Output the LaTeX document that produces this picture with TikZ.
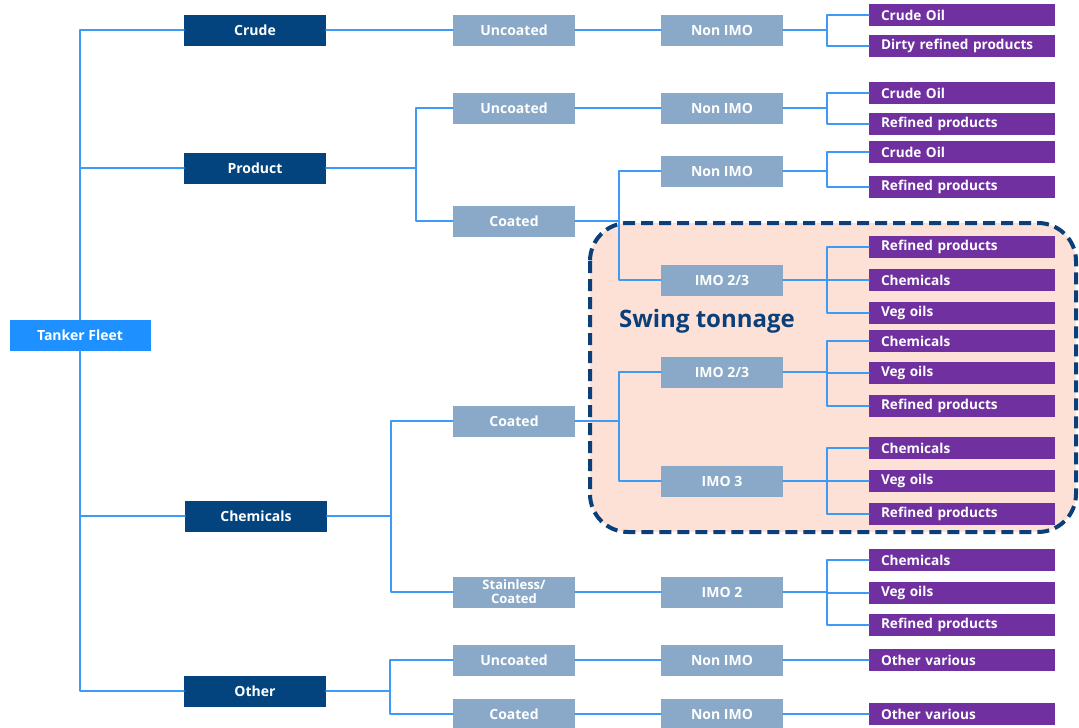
\documentclass[tikz,border=0pt]{standalone}
\usepackage{fontspec}
\setmainfont{Open Sans}
\usepackage{xcolor}
\usepackage{tikz}
\usetikzlibrary{positioning,backgrounds}
\definecolor{TFBlue}{HTML}{1E90FF}
\definecolor{TFNavy}{HTML}{03447F}
\definecolor{TFSteel}{HTML}{8AA9C8}
\definecolor{TFPurple}{HTML}{7030A0}
\definecolor{TFLine}{HTML}{3D9BF5}
\definecolor{TFSwingFill}{HTML}{FDE1D6}
\definecolor{TFSwingEdge}{HTML}{0B3F7A}

\tikzset{
  fleetbox/.style={fill=TFBlue,text=white,minimum width=141pt,
    minimum height=31pt,inner sep=0pt},
  typebox/.style={fill=TFNavy,text=white,minimum width=142pt,
    minimum height=31pt,inner sep=0pt},
  gradebox/.style={fill=TFSteel,text=white,minimum width=122pt,
    minimum height=31pt,inner sep=0pt},
  cargobox/.style={fill=TFPurple,text=white,text width=162pt,
    inner xsep=12pt,inner ysep=0pt,minimum height=22pt,align=left,
    font=\bfseries\fontsize{13.6}{16}\selectfont},
  link/.style={draw=TFLine,line width=2pt},
}

\begin{document}
\begin{tikzpicture}[x=1pt,y=-1pt,font=\bfseries\fontsize{14}{16}\selectfont,
    line cap=round,line join=round]
  \path[use as bounding box] (0,0) rectangle (1079,728);

  % Swing tonnage zone sits behind the tree.
  \draw[TFSwingEdge,fill=TFSwingFill,line width=4pt,line cap=butt,
    dash pattern=on 12pt off 6pt,rounded corners=38pt]
    (590,223) rectangle (1076,532);
  \node[text=TFSwingEdge,font=\bfseries\fontsize{24}{27}\selectfont]
    (swing) at (707,321) {Swing tonnage};

  % Root and ship types.
  \node[fleetbox] (root) at (80,335) {Tanker Fleet};
  \node[typebox] (crude) at (255,30) {Crude};
  \node[typebox] (product) at (255,168) {Product};
  \node[typebox] (chem) at (256,516) {Chemicals};
  \node[typebox] (other) at (255,691) {Other};

  % Tank coating.
  \node[gradebox] (s1) at (514,30) {Uncoated};
  \node[gradebox] (s2) at (514,108) {Uncoated};
  \node[gradebox] (s3) at (514,221) {Coated};
  \node[gradebox] (s4) at (514,421) {Coated};
  \node[gradebox,align=center,font=\bfseries\fontsize{13}{14}\selectfont]
    (s5) at (514,592) {Stainless/\\Coated};
  \node[gradebox] (s6) at (514,660) {Uncoated};
  \node[gradebox] (s7) at (514,714) {Coated};

  % IMO class.
  \node[gradebox] (n1) at (722,30) {Non IMO};
  \node[gradebox] (n2) at (722,108) {Non IMO};
  \node[gradebox] (n3) at (722,171) {Non IMO};
  \node[gradebox] (n4) at (722,280) {IMO 2/3};
  \node[gradebox] (n5) at (722,372) {IMO 2/3};
  \node[gradebox] (n6) at (722,481) {IMO 3};
  \node[gradebox] (n7) at (722,592) {IMO 2};
  \node[gradebox] (n8) at (722,660) {Non IMO};
  \node[gradebox] (n9) at (722,714) {Non IMO};

  % Junctions of the elbow connectors.
  \coordinate (j2) at (416,168);
  \coordinate (j3) at (391,516);
  \coordinate (j4) at (390,691);
  \coordinate (j5) at (619,221);
  \coordinate (j6) at (619,421);
  \foreach \i in {1,...,9}
    \path (n\i.east) ++(44,0) coordinate (k\i);

  % Root to types.
  \draw[link] (root.north) |- (crude.west);
  \draw[link] (root.north) |- (product.west);
  \draw[link] (root.south) |- (chem.west);
  \draw[link] (root.south) |- (other.west);

  % Types to coating.
  \draw[link] (crude.east) -- (s1.west);
  \draw[link] (product.east) -- (j2) |- (s2.west);
  \draw[link] (j2) |- (s3.west);
  \draw[link] (chem.east) -- (j3) |- (s4.west);
  \draw[link] (j3) |- (s5.west);
  \draw[link] (other.east) -- (j4) |- (s6.west);
  \draw[link] (j4) |- (s7.west);

  % Coating to IMO class.
  \draw[link] (s1.east) -- (n1.west);
  \draw[link] (s2.east) -- (n2.west);
  \draw[link] (s3.east) -- (j5) |- (n3.west);
  \draw[link] (j5) |- (n4.west);
  \draw[link] (s4.east) -- (j6) |- (n5.west);
  \draw[link] (j6) |- (n6.west);
  \draw[link] (s5.east) -- (n7.west);
  \draw[link] (s6.east) -- (n8.west);
  \draw[link] (s7.east) -- (n9.west);
  \foreach \i in {1,...,9}
    \draw[link] (n\i.east) -- (k\i);

  % Cargoes carried, hung from the IMO junctions.
  \foreach \c/\y/\k/\txt in {
      1/15/1/Crude Oil, 2/46/1/Dirty refined products,
      3/93/2/Crude Oil, 4/124/2/Refined products,
      5/152/3/Crude Oil, 6/187/3/Refined products,
      7/247/4/Refined products, 8/280/4/Chemicals, 9/313/4/Veg oils,
      10/341/5/Chemicals, 11/373/5/Veg oils, 12/406/5/Refined products,
      13/448/6/Chemicals, 14/481/6/Veg oils, 15/514/6/Refined products,
      16/560/7/Chemicals, 17/593/7/Veg oils, 18/625/7/Refined products,
      19/660/8/Other various, 20/714/9/Other various} {
    \node[cargobox] (c\c) at (962,\y) {\txt};
    \draw[link] (k\k) |- (c\c.west);
  }
\end{tikzpicture}
\end{document}
